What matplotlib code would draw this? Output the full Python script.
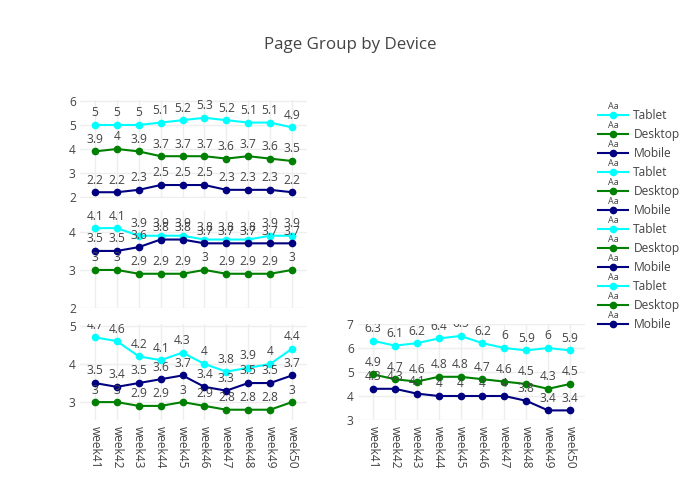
import matplotlib
matplotlib.use('Agg')
import matplotlib.pyplot as plt
from matplotlib.legend_handler import HandlerLine2D
from matplotlib.text import Text

plt.rcParams['font.family'] = ['Open Sans', 'DejaVu Sans']

weeks = ['week41', 'week42', 'week43', 'week44', 'week45',
         'week46', 'week47', 'week48', 'week49', 'week50']

# panel 1 (top left)
p1_tablet = [5, 5, 5, 5.1, 5.2, 5.3, 5.2, 5.1, 5.1, 4.9]
p1_desktop = [3.9, 4, 3.9, 3.7, 3.7, 3.7, 3.6, 3.7, 3.6, 3.5]
p1_mobile = [2.2, 2.2, 2.3, 2.5, 2.5, 2.5, 2.3, 2.3, 2.3, 2.2]
# panel 2 (middle left)
p2_tablet = [4.1, 4.1, 3.9, 3.9, 3.9, 3.8, 3.8, 3.8, 3.9, 3.9]
p2_desktop = [3, 3, 2.9, 2.9, 2.9, 3, 2.9, 2.9, 2.9, 3]
p2_mobile = [3.5, 3.5, 3.6, 3.8, 3.8, 3.7, 3.7, 3.7, 3.7, 3.7]
# panel 3 (bottom left)
p3_tablet = [4.7, 4.6, 4.2, 4.1, 4.3, 4, 3.8, 3.9, 4, 4.4]
p3_desktop = [3, 3, 2.9, 2.9, 3, 2.9, 2.8, 2.8, 2.8, 3]
p3_mobile = [3.5, 3.4, 3.5, 3.6, 3.7, 3.4, 3.3, 3.5, 3.5, 3.7]
# panel 4 (bottom right)
p4_tablet = [6.3, 6.1, 6.2, 6.4, 6.5, 6.2, 6, 5.9, 6, 5.9]
p4_desktop = [4.9, 4.7, 4.6, 4.8, 4.8, 4.7, 4.6, 4.5, 4.3, 4.5]
p4_mobile = [4.3, 4.3, 4.1, 4, 4, 4, 4, 3.8, 3.4, 3.4]

devices = ['Tablet', 'Desktop', 'Mobile']
colors = {'Tablet': '#00ffff', 'Desktop': '#008000', 'Mobile': '#000080'}

panels = [
    ([p1_tablet, p1_desktop, p1_mobile], [80, 100, 307, 198], (1.96, 6.04), [2, 3, 4, 5, 6], False),
    ([p2_tablet, p2_desktop, p2_mobile], [80, 211, 307, 308], (2.0, 4.55), [2, 3, 4], False),
    ([p3_tablet, p3_desktop, p3_mobile], [80, 324, 307, 420], (2.53, 5.05), [3, 4, 5], True),
    ([p4_tablet, p4_desktop, p4_mobile], [358, 324, 585, 420], (3, 7), [3, 4, 5, 6, 7], True),
]

W, H = 700, 500
fig = plt.figure(figsize=(7, 5), dpi=100)
fs = 8.64  # 12px
handles = []

for series, box, ylim, yt, show_x in panels:
    x0, y0, x1, y1 = box
    ax = fig.add_axes([x0 / W, 1 - y1 / H, (x1 - x0) / W, (y1 - y0) / H])
    xs = list(range(len(weeks)))
    for name, vals in zip(devices, series):
        ln, = ax.plot(xs, vals, color=colors[name], lw=1.5, marker='o', ms=4.5,
                      label=name, zorder=3)
        handles.append(ln)
        for x, v in zip(xs, vals):
            ax.annotate(f'{v:g}', (x, v), xytext=(0, 4), textcoords='offset points',
                        ha='center', va='bottom', fontsize=fs, color='#444444',
                        clip_on=True, zorder=4)
    ax.set_xlim(-0.685, 9.685)
    ax.set_ylim(*ylim)
    ax.set_yticks(yt)
    ax.set_xticks(xs)
    if show_x:
        ax.set_xticklabels(weeks, rotation=-90)
    else:
        ax.set_xticklabels([])
    ax.tick_params(length=0, labelsize=fs, labelcolor='#444444', pad=3)
    ax.tick_params(axis='x', pad=4)
    ax.grid(True, color='#eeeeee', lw=1)
    ax.set_axisbelow(True)
    for s in ax.spines.values():
        s.set_visible(False)


class HandlerAa(HandlerLine2D):
    def create_artists(self, legend, orig_handle, xdescent, ydescent,
                       width, height, fontsize, trans):
        arts = super().create_artists(legend, orig_handle, xdescent, ydescent,
                                      width, height, fontsize, trans)
        t = Text(width / 2 - xdescent, height / 2 - ydescent + 3, 'Aa',
                 fontsize=6.5, ha='center', va='bottom', color='#444444',
                 transform=trans)
        return arts + [t]


fig.legend(handles=handles, labels=[h.get_label() for h in handles],
           loc='upper left', bbox_to_anchor=(598 / W, 1 - 109 / H),
           frameon=False, fontsize=fs, labelcolor='#444444', numpoints=1,
           handlelength=2.5, handletextpad=0.45, labelspacing=0.5,
           borderpad=0, borderaxespad=0,
           handler_map={matplotlib.lines.Line2D: HandlerAa()})

fig.text(350 / W, 1 - 45 / H, 'Page Group by Device', ha='center', va='center',
         fontsize=12.2, color='#444444')

fig.savefig('out.png', dpi=100)
